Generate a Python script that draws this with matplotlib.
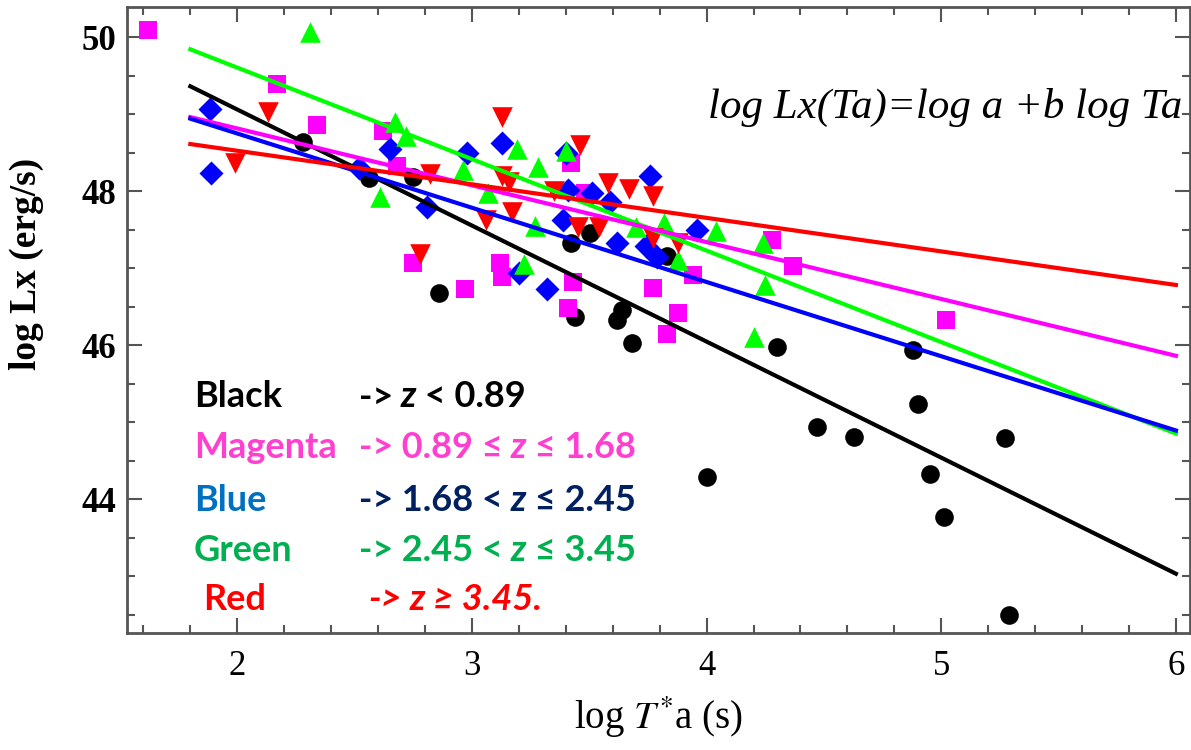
import matplotlib
matplotlib.use('Agg')
import matplotlib.pyplot as plt
from matplotlib.ticker import MultipleLocator

plt.rcParams['mathtext.fontset'] = 'stix'

# z < 0.89
black_x = [2.28, 2.56, 2.75, 2.86, 3.42, 3.505, 3.44, 3.62, 3.64, 3.68, 3.83,
           4.00, 4.30, 4.47, 4.63, 4.88, 4.90, 4.95, 5.01, 5.27, 5.29]
black_y = [48.64, 48.17, 48.18, 46.68, 47.32, 47.46, 46.36, 46.32, 46.45, 46.03, 47.15,
           44.28, 45.98, 44.94, 44.80, 45.93, 45.23, 44.32, 43.77, 44.79, 42.49]

# 0.89 <= z <= 1.68
magenta_x = [1.62, 2.17, 2.34, 2.62, 2.68, 2.75, 2.97, 3.12, 3.13, 3.42,
             3.48, 3.43, 3.41, 3.77, 3.94, 3.88, 3.83, 4.28, 4.37, 5.02]
magenta_y = [50.09, 49.39, 48.86, 48.78, 48.32, 47.06, 46.73, 47.07, 46.88, 48.36,
             47.98, 46.82, 46.48, 46.74, 46.91, 46.41, 46.14, 47.37, 47.03, 46.33]

# 1.68 < z <= 2.45
blue_x = [1.885, 1.89, 2.52, 2.65, 2.81, 2.98, 3.13, 3.20, 3.32, 3.40,
          3.41, 3.51, 3.59, 3.39, 3.62, 3.74, 3.79, 3.76, 3.96]
blue_y = [49.07, 48.23, 48.30, 48.54, 47.79, 48.49, 48.62, 46.93, 46.73, 48.50,
          48.01, 47.98, 47.86, 47.62, 47.32, 47.29, 47.14, 48.19, 47.49]

# 2.45 < z <= 3.45
green_x = [2.31, 2.61, 2.67, 2.72, 2.96, 3.07, 3.19, 3.22, 3.27, 3.28,
           3.40, 3.70, 3.82, 3.88, 4.04, 4.24, 4.25, 4.20]
green_y = [50.07, 47.92, 48.90, 48.71, 48.27, 47.97, 48.55, 47.05, 47.55, 48.31,
           48.52, 47.53, 47.58, 47.10, 47.48, 47.32, 46.78, 46.11]

# z >= 3.45
red_x = [1.99, 2.13, 2.78, 2.82, 3.06, 3.13, 3.13, 3.16, 3.17, 3.35,
         3.46, 3.45, 3.54, 3.58, 3.67, 3.77, 3.77, 3.88]
red_y = [48.37, 49.03, 47.18, 48.22, 47.62, 48.96, 48.20, 48.12, 47.73, 48.00,
         48.60, 47.53, 47.53, 48.11, 48.03, 47.94, 47.39, 47.32]

# fitted lines, end points
fit_x = [1.8, 6.0]
fit_black = [49.36, 43.03]
fit_green = [49.84, 44.85]
fit_magenta = [48.96, 45.86]
fit_blue = [48.94, 44.89]
fit_red = [48.61, 46.78]

fig = plt.figure(figsize=(11.91, 7.5), dpi=100)
ax = fig.add_axes([127 / 1191, 117 / 750, 1063 / 1191, 626 / 750])

# markers
ax.scatter(black_x, black_y, marker='o', s=180, c='black', linewidths=0, zorder=2)
ax.scatter(magenta_x, magenta_y, marker='s', s=155, c='#ff00ff', linewidths=0, zorder=2)
ax.scatter(blue_x, blue_y, marker='D', s=150, c='#0000ff', linewidths=0, zorder=2)
ax.scatter(green_x, green_y, marker='^', s=220, c='#00ff00', linewidths=0, zorder=2)
ax.scatter(red_x, red_y, marker='v', s=220, c='#ff0000', linewidths=0, zorder=2)

# fit lines on top
ax.plot(fit_x, fit_black, color='black', lw=3, zorder=3)
ax.plot(fit_x, fit_green, color='#00ff00', lw=3, zorder=3)
ax.plot(fit_x, fit_magenta, color='#ff00ff', lw=3, zorder=3)
ax.plot(fit_x, fit_blue, color='#0000ff', lw=3, zorder=3)
ax.plot(fit_x, fit_red, color='#ff0000', lw=3, zorder=3)

ax.set_xlim(1.53, 6.06)
ax.set_ylim(42.26, 50.39)
ax.xaxis.set_major_locator(MultipleLocator(1))
ax.xaxis.set_minor_locator(MultipleLocator(0.2))
ax.yaxis.set_major_locator(MultipleLocator(2))
ax.yaxis.set_minor_locator(MultipleLocator(0.5))

for s in ax.spines.values():
    s.set_color('#555555')
    s.set_linewidth(2)
ax.tick_params(which='both', direction='in', top=True, right=True,
               color='#555555', width=1.5)
ax.tick_params(which='major', length=11)
ax.tick_params(which='minor', length=6)
ax.tick_params(axis='x', which='major', pad=12)
ax.tick_params(axis='y', which='major', pad=8)
for lab in ax.get_xticklabels():
    lab.set_family('Liberation Serif')
    lab.set_fontsize(25)
for lab in ax.get_yticklabels():
    lab.set_family('Liberation Serif')
    lab.set_fontsize(25)
    lab.set_fontweight('bold')

ax.set_xlabel(r'log $T^{*}$a (s)', fontsize=28, family='Liberation Serif', va='center')
ax.xaxis.set_label_coords(0.5, -0.135)
ax.set_ylabel('log Lx (erg/s)', fontsize=27, family='Liberation Serif', fontweight='bold')
ax.yaxis.set_label_coords(-0.078, 0.59)

# formula
ax.text(0.77, 0.84, 'log Lx(Ta)=log a +b log Ta', transform=ax.transAxes,
        ha='center', va='center', fontsize=31, family='Liberation Serif',
        style='italic')

# colour key
legend_rows = [
    (0.063, 0.377, 'Black', 'black', [('->', 'black', 'normal'), (' z', 'black', 'italic'),
                                      (' < 0.89', 'black', 'normal')]),
    (0.063, 0.296, 'Magenta', '#ff3fd0', [('->', '#ff3fd0', 'normal'), (' 0.89 \u2264', '#ff3fd0', 'normal'),
                                          (' z', '#ff3fd0', 'italic'), (' \u2264 1.68', '#ff3fd0', 'normal')]),
    (0.063, 0.212, 'Blue', '#0070c0', [('->', '#002060', 'normal'), (' 1.68 <', '#002060', 'normal'),
                                       (' z', '#002060', 'italic'), (' \u2264 2.45', '#002060', 'normal')]),
    (0.063, 0.132, 'Green', '#00b050', [('->', '#00b050', 'normal'), (' 2.45 <', '#00b050', 'normal'),
                                        (' z', '#00b050', 'italic'), (' \u2264 3.45', '#00b050', 'normal')]),
    (0.072, 0.053, 'Red', '#ff0000', [('->', '#ff0000', 'italic'), (' z', '#ff0000', 'italic'),
                                      (' \u2265 3.45.', '#ff0000', 'italic')]),
]
arrow_col = [0.218, 0.218, 0.218, 0.218, 0.227]
font_key = dict(fontsize=26, fontweight='bold', family=['Lato', 'DejaVu Sans'])

for (x0, y0, name, ncol, pieces), xa in zip(legend_rows, arrow_col):
    ax.text(x0, y0, name, color=ncol, transform=ax.transAxes, ha='left', va='center', **font_key)
    prev = None
    for txt, col, sty in pieces:
        if prev is None:
            prev = ax.text(xa, y0, txt, color=col, style=sty, transform=ax.transAxes,
                           ha='left', va='center', **font_key)
        else:
            prev = ax.annotate(txt, xy=(1, 0), xycoords=prev, color=col, style=sty,
                               ha='left', va='bottom', **font_key)

fig.savefig('out.png', dpi=100)
